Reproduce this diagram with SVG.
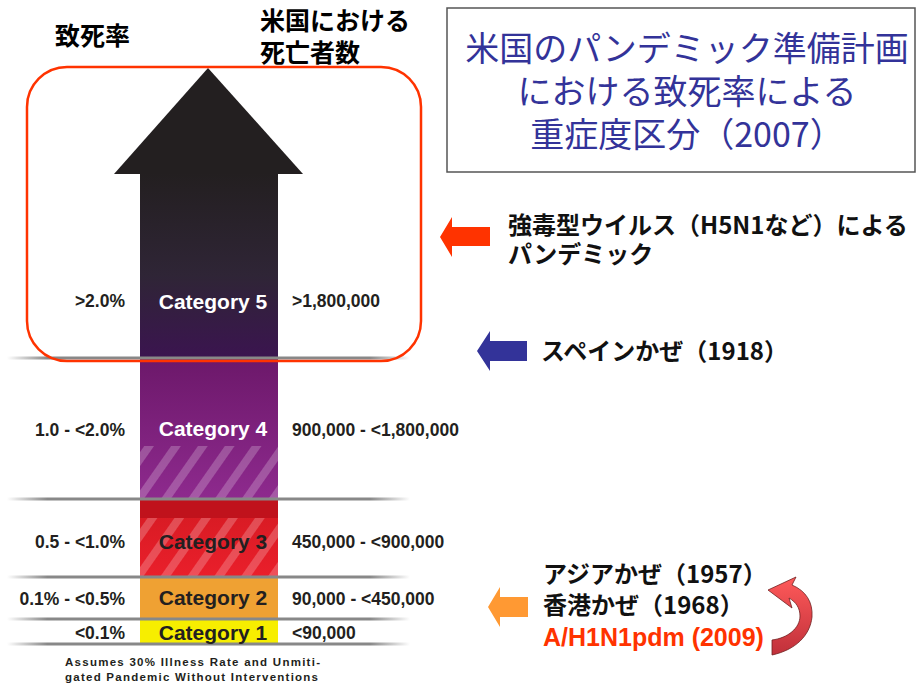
<svg xmlns="http://www.w3.org/2000/svg" width="922" height="688" viewBox="0 0 922 688">
<style>
.jp{font-family:"Noto Sans CJK JP","Noto Sans",sans-serif;}
.hd{font-size:25px;font-weight:bold;fill:#000;}
.ann{font-size:24px;font-weight:bold;fill:#111;}
.ttl{font-size:34px;fill:#333399;text-anchor:middle;}
.lab{font-family:"Liberation Sans",Arial,sans-serif;font-weight:bold;font-size:17.5px;fill:#231f20;}
.cat{font-family:"Liberation Sans",Arial,sans-serif;font-weight:bold;font-size:21px;text-anchor:middle;}
.foot{font-family:"Liberation Sans",Arial,sans-serif;font-weight:bold;font-size:11.5px;fill:#231f20;}
</style>
<defs>
<linearGradient id="g5" x1="0" y1="0" x2="0" y2="1">
<stop offset="0" stop-color="#231f20"/><stop offset="0.55" stop-color="#2f2536"/><stop offset="1" stop-color="#3b1450"/>
</linearGradient>
<linearGradient id="g4" x1="0" y1="0" x2="0" y2="1">
<stop offset="0" stop-color="#6c186a"/><stop offset="1" stop-color="#8e2a8e"/>
</linearGradient>
<linearGradient id="g3" x1="0" y1="0" x2="0" y2="1">
<stop offset="0" stop-color="#d41a22"/><stop offset="1" stop-color="#ea1f2b"/>
</linearGradient>
<linearGradient id="gl" x1="0" y1="0" x2="1" y2="0">
<stop offset="0" stop-color="#888" stop-opacity="0"/><stop offset="0.1" stop-color="#888"/><stop offset="0.9" stop-color="#888"/><stop offset="1" stop-color="#888" stop-opacity="0"/>
</linearGradient>
<linearGradient id="gc" x1="0" y1="0" x2="0" y2="1">
<stop offset="0" stop-color="#ff5a5a"/><stop offset="1" stop-color="#c0303a"/>
</linearGradient>
<pattern id="hatch" width="22" height="22" patternUnits="userSpaceOnUse" patternTransform="rotate(35)">
<rect x="0" y="0" width="8" height="22" fill="#fff" fill-opacity="0.22"/>
</pattern>
</defs>

<g id="header-rate"><text class="jp hd" x="55" y="45">致死率</text></g>
<g id="header-deaths">
<text class="jp hd" x="260" y="30">米国における</text>
<text class="jp hd" x="260" y="62">死亡者数</text>
</g>

<g id="title">
<rect x="447" y="8" width="468" height="164" fill="#fff" stroke="#555" stroke-width="1.5"/>
<text class="jp ttl" x="687" y="61">米国のパンデミック準備計画</text>
<text class="jp ttl" x="687" y="104">における致死率による</text>
<text class="jp ttl" x="687" y="147">重症度区分（2007）</text>
</g>

<g id="scale">
<polygon points="208,68 303,174 114,174" fill="#231f20"/>
<rect x="140" y="173" width="138" height="186" fill="url(#g5)"/>
<rect x="140" y="358" width="138" height="142" fill="url(#g4)"/>
<rect x="140" y="446" width="138" height="54" fill="url(#hatch)"/>
<rect x="140" y="500" width="138" height="77" fill="url(#g3)"/>
<rect x="140" y="500" width="138" height="18" fill="#c0121c"/>
<rect x="140" y="518" width="138" height="59" fill="url(#hatch)"/>
<rect x="140" y="577" width="138" height="42" fill="#efa133"/>
<rect x="140" y="619" width="138" height="25" fill="#f7ee00"/>
<g fill="url(#gl)">
<rect x="7" y="356.5" width="403" height="3"/>
<rect x="7" y="497.5" width="403" height="3"/>
<rect x="7" y="575.5" width="403" height="3"/>
<rect x="7" y="617.5" width="403" height="3"/>
<rect x="7" y="642.5" width="403" height="3"/>
</g>
</g>

<g id="cat5">
<text class="lab" x="125" y="307" text-anchor="end">&gt;2.0%</text>
<text class="cat" x="213" y="309" fill="#fff">Category 5</text>
<text class="lab" x="292" y="307">&gt;1,800,000</text>
</g>
<g id="cat4">
<text class="lab" x="125" y="436" text-anchor="end">1.0 - &lt;2.0%</text>
<text class="cat" x="213" y="436" fill="#fff">Category 4</text>
<text class="lab" x="292" y="436">900,000 - &lt;1,800,000</text>
</g>
<g id="cat3">
<text class="lab" x="125" y="548" text-anchor="end">0.5 - &lt;1.0%</text>
<text class="cat" x="213" y="549" fill="#231f20">Category 3</text>
<text class="lab" x="292" y="548">450,000 - &lt;900,000</text>
</g>
<g id="cat2">
<text class="lab" x="125" y="605" text-anchor="end">0.1% - &lt;0.5%</text>
<text class="cat" x="213" y="605" fill="#231f20">Category 2</text>
<text class="lab" x="292" y="605">90,000 - &lt;450,000</text>
</g>
<g id="cat1">
<text class="lab" x="125" y="639" text-anchor="end">&lt;0.1%</text>
<text class="cat" x="213" y="640" fill="#231f20">Category 1</text>
<text class="lab" x="292" y="639">&lt;90,000</text>
</g>

<g id="footnote">
<text class="foot" x="65" y="666" textLength="255">Assumes 30% Illness Rate and Unmiti-</text>
<text class="foot" x="65" y="681" textLength="253">gated Pandemic Without Interventions</text>
</g>

<g id="highlight">
<rect x="27" y="67" width="394" height="294" rx="40" fill="none" stroke="#ff3300" stroke-width="2.5"/>
</g>

<g id="connectors">
<polygon points="440,237 452,217 452,227 490,227 490,246 452,246 452,257" fill="#ff3300"/>
<polygon points="477,351 490,331 490,341 527,341 527,361 490,361 490,371" fill="#333399"/>
<polygon points="488,607 500,587 500,597 528,597 528,617 500,617 500,627" fill="#ff9933"/>
<path d="M 772 640 C 788 638 800 628 800 616 C 800 608 796 602 789 598 L 792 608 L 768 590 L 796 577 L 792 585 C 806 591 813 602 812 617 C 810 636 795 650 772 655 Z" fill="url(#gc)" stroke="#702020" stroke-width="0.8"/>
</g>

<g id="note-h5n1">
<text class="jp ann" x="508" y="234">強毒型ウイルス（H5N1など）による</text>
<text class="jp ann" x="508" y="263">パンデミック</text>
</g>
<g id="note-1918">
<text class="jp ann" x="541" y="360">スペインかぜ（1918）</text>
</g>
<g id="note-cat2">
<text class="jp ann" x="543" y="583">アジアかぜ（1957）</text>
<text class="jp ann" x="543" y="614">香港かぜ（1968）</text>
<text x="543" y="646" font-family="'Liberation Sans',Arial,sans-serif" font-weight="bold" font-size="25" fill="#ff3300">A/H1N1pdm (2009)</text>
</g>
</svg>
